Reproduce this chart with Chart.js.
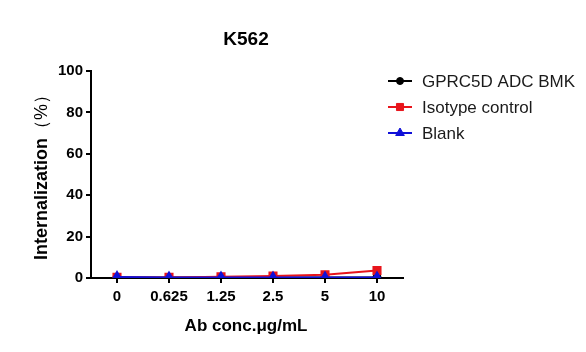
<!DOCTYPE html>
<html>
<head>
<meta charset="utf-8">
<script src="https://cdn.jsdelivr.net/npm/chart.js@4"></script>
<style>
  body { margin: 0; background: #fff; }
  #wrap { width: 586px; height: 352px; }
</style>
</head>
<body>
<div id="wrap"><canvas id="chart" width="586" height="352"></canvas></div>
<script>
// chart data
const concLabels = ['0', '0.625', '1.25', '2.5', '5', '10'];
const bmkValues = [0.3, 0.2, 0.3, 0.3, 0.3, 0.3];
const isotypeValues = [0.4, 0.3, 0.6, 1.0, 1.6, 3.6];
const blankValues = [0.5, 0.2, 0.3, 0.2, 0.2, 0.3];
const yTicks = [0, 20, 40, 60, 80, 100];

const FONT = '"Liberation Sans", Arial, sans-serif';

// draws titles and line+marker legend by hand
const extrasPlugin = {
    id: 'extras',
    afterDraw(chart) {
        const ctx = chart.ctx;
        ctx.save();
        ctx.fillStyle = '#000';
        ctx.textAlign = 'center';
        ctx.textBaseline = 'middle';
        ctx.font = 'bold 19px ' + FONT;
        ctx.fillText('K562', 246, 40);

        ctx.font = 'bold 17px ' + FONT;
        ctx.fillText('Ab conc.μg/mL', 246, 326);

        // rotated y title
        ctx.save();
        ctx.translate(42, 173);
        ctx.rotate(-Math.PI / 2);
        ctx.font = 'bold 18px ' + FONT;
        const main = 'Internalization';
        const paren = '（%）';
        const w1 = ctx.measureText(main).width;
        ctx.font = '18px ' + FONT;
        const w2 = ctx.measureText(paren).width;
        ctx.textAlign = 'left';
        ctx.font = 'bold 18px ' + FONT;
        ctx.fillText(main, -(w1 + w2) / 2, 0);
        ctx.font = '18px ' + FONT;
        ctx.fillText(paren, -(w1 + w2) / 2 + w1, 0);
        ctx.restore();

        const rows = [81, 107, 133];
        chart.data.datasets.forEach((ds, i) => {
            const y = rows[i];
            ctx.strokeStyle = ds.borderColor;
            ctx.lineWidth = 2;
            ctx.beginPath();
            ctx.moveTo(388, y);
            ctx.lineTo(412, y);
            ctx.stroke();
            ctx.fillStyle = ds.pointBackgroundColor;
            ctx.lineWidth = 1;
            Chart.helpers.drawPoint(ctx, {
                pointStyle: ds.pointStyle,
                radius: ds.pointRadius,
                borderWidth: 1
            }, 400, y);
            ctx.fillStyle = '#1a1a1a';
            ctx.font = '17px ' + FONT;
            ctx.textAlign = 'left';
            ctx.fillText(ds.label, 422, y + 1);
        });
        ctx.restore();
    }
};

const ctx = document.getElementById('chart').getContext('2d');
new Chart(ctx, {
    type: 'line',
    data: {
        labels: concLabels,
        datasets: [
            {
                label: 'GPRC5D ADC BMK',
                data: bmkValues,
                borderColor: '#000',
                backgroundColor: '#000',
                pointBackgroundColor: '#000',
                pointStyle: 'circle',
                pointRadius: 3.5,
                borderWidth: 2,
                order: 3
            },
            {
                label: 'Isotype control',
                data: isotypeValues,
                borderColor: '#e8141b',
                backgroundColor: '#e8141b',
                pointBackgroundColor: '#e8141b',
                pointStyle: 'rect',
                pointRadius: 5,
                borderWidth: 2,
                order: 2
            },
            {
                label: 'Blank',
                data: blankValues,
                borderColor: '#1010d8',
                backgroundColor: '#1010d8',
                pointBackgroundColor: '#1010d8',
                pointStyle: 'triangle',
                pointRadius: 5,
                borderWidth: 2,
                order: 1
            }
        ]
    },
    options: {
        responsive: false,
        animation: false,
        layout: { padding: { top: 71, right: 183, left: 0, bottom: 0 } },
        plugins: {
            legend: { display: false },
            title: { display: false },
            tooltip: { enabled: false }
        },
        scales: {
            x: {
                offset: true,
                grid: { drawOnChartArea: false, drawTicks: true, tickLength: 5, color: '#000', lineWidth: 2, offset: false },
                border: { color: '#000', width: 2 },
                ticks: { color: '#000', font: { family: FONT, size: 15, weight: 'bold' }, padding: 5, maxRotation: 0 },
                afterFit(scale) { scale.height = 74; }
            },
            y: {
                min: 0,
                max: 100,
                afterBuildTicks(scale) { scale.ticks = yTicks.map(v => ({ value: v })); },
                grid: { drawOnChartArea: false, drawTicks: true, tickLength: 5, color: '#000', lineWidth: 2 },
                border: { color: '#000', width: 2 },
                ticks: { color: '#000', font: { family: FONT, size: 15, weight: 'bold' }, padding: 3 },
                afterFit(scale) { scale.width = 91; }
            }
        }
    },
    plugins: [extrasPlugin]
});
</script>
</body>
</html>
